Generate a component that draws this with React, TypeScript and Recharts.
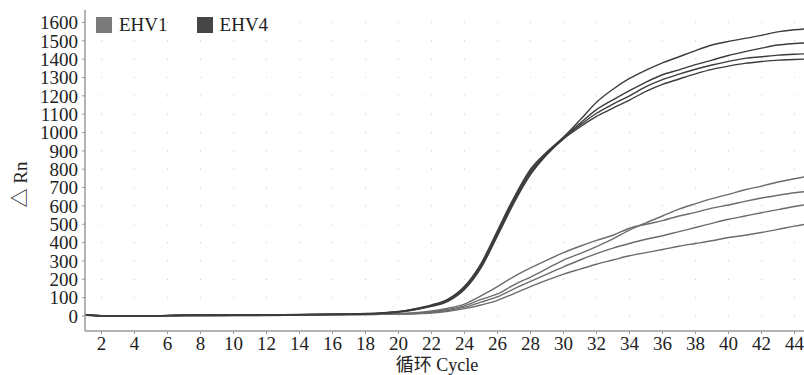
import React from 'react';
import { LineChart, Line, XAxis, YAxis, CartesianGrid, Legend, Label } from 'recharts';

const cycles = [1, 2, 3, 4, 5, 6, 7, 8, 9, 10, 11, 12, 13, 14, 15, 16, 17, 18, 19, 20, 21, 22, 23, 24, 25, 26, 27, 28, 29, 30, 31, 32, 33, 34, 35, 36, 37, 38, 39, 40, 41, 42, 43, 44, 45];
const xTicks = [2, 4, 6, 8, 10, 12, 14, 16, 18, 20, 22, 24, 26, 28, 30, 32, 34, 36, 38, 40, 42, 44];
const yTicks = [0, 100, 200, 300, 400, 500, 600, 700, 800, 900, 1000, 1100, 1200, 1300, 1400, 1500, 1600];

// EHV4 curves (dark)
const ehv4A = [8, 2, 0, 0, 0, 3, 5, 6, 6, 6, 6, 6, 7, 8, 9, 10, 11, 13, 17, 24, 39, 60, 92, 162, 286, 466, 646, 800, 895, 975, 1068, 1165, 1236, 1295, 1340, 1380, 1413, 1447, 1477, 1497, 1513, 1530, 1549, 1560, 1568];
const ehv4B = [7, 2, 0, 0, 0, 3, 4, 5, 5, 6, 6, 6, 6, 7, 8, 9, 10, 12, 16, 23, 37, 57, 88, 156, 278, 456, 636, 790, 890, 970, 1050, 1125, 1178, 1228, 1275, 1315, 1342, 1370, 1395, 1420, 1441, 1460, 1477, 1485, 1490];
const ehv4C = [6, 1, 0, 0, 0, 2, 4, 5, 5, 5, 5, 5, 6, 7, 8, 9, 10, 12, 15, 22, 35, 55, 85, 150, 270, 446, 626, 780, 885, 968, 1040, 1105, 1155, 1200, 1250, 1288, 1318, 1345, 1368, 1388, 1404, 1413, 1422, 1427, 1430];
const ehv4D = [6, 1, 0, 0, 0, 2, 3, 4, 4, 5, 5, 5, 5, 6, 7, 8, 9, 11, 14, 21, 33, 52, 80, 144, 262, 436, 616, 770, 880, 965, 1030, 1088, 1133, 1177, 1225, 1263, 1292, 1320, 1344, 1362, 1377, 1387, 1395, 1398, 1402];

// EHV1 curves (grey)
const ehv1A = [6, 1, 0, 0, 0, 1, 2, 2, 2, 3, 3, 3, 4, 5, 6, 7, 8, 9, 11, 14, 18, 27, 42, 65, 110, 160, 215, 262, 305, 345, 380, 412, 440, 478, 500, 520, 545, 565, 588, 605, 625, 643, 658, 672, 680];
const ehv1B = [5, 1, 0, 0, 0, 1, 2, 2, 2, 3, 3, 3, 4, 5, 6, 7, 8, 9, 10, 12, 15, 22, 35, 55, 90, 120, 170, 212, 258, 305, 340, 378, 420, 468, 508, 545, 582, 612, 640, 663, 688, 708, 730, 748, 765];
const ehv1C = [5, 0, 0, 0, 0, 1, 1, 2, 2, 2, 2, 3, 3, 4, 5, 6, 7, 8, 9, 11, 13, 19, 30, 48, 75, 105, 148, 188, 228, 268, 305, 340, 370, 395, 418, 437, 460, 482, 505, 527, 545, 563, 580, 597, 610];
const ehv1D = [4, 0, 0, 0, 0, 0, 1, 1, 2, 2, 2, 2, 3, 4, 5, 6, 7, 8, 9, 10, 12, 16, 25, 40, 60, 85, 122, 160, 195, 228, 255, 282, 305, 328, 345, 362, 380, 395, 410, 428, 440, 455, 472, 490, 505];

const legendNames = ['EHV1', 'EHV4'];
const legendColors = ['#7b7b7b', '#464646'];
const ehv1Color = '#6c6c6c';
const ehv4Color = '#3c3c3c';

const data = cycles.map((c, i) => ({
  cycle: c,
  a4: ehv4A[i], b4: ehv4B[i], c4: ehv4C[i], d4: ehv4D[i],
  a1: ehv1A[i], b1: ehv1B[i], c1: ehv1C[i], d1: ehv1D[i],
}));

const FONT = "'Liberation Serif', 'Times New Roman', 'Noto Sans CJK SC', serif";

const renderLegend = () => (
  <div style={{ display: 'flex', alignItems: 'center', fontFamily: FONT, fontSize: 19, color: '#222' }}>
    {legendNames.map((n, i) => (
      <div key={n} style={{ display: 'flex', alignItems: 'center', marginRight: 29 }}>
        <span style={{ display: 'inline-block', width: 16, height: 16, background: legendColors[i], marginRight: 7 }} />
        <span style={{ lineHeight: '19px' }}>{n}</span>
      </div>
    ))}
  </div>
);

const YLabel = (props: any) => {
  const vb = props.viewBox || { x: 0, y: 0, width: 0, height: 0 };
  const x = vb.x + 20;
  const y = vb.y + vb.height / 2 + 14;
  return (
    <text x={x} y={y} transform={`rotate(-90 ${x} ${y})`} textAnchor="middle" dominantBaseline="central"
      fill="#222" fontSize={19} fontFamily={FONT}>△ Rn</text>
  );
};

const XLabel = (props: any) => {
  const vb = props.viewBox || { x: 0, y: 0, width: 0, height: 0 };
  const x = vb.x + vb.width / 2 - 11;
  const y = vb.y + vb.height - 4;
  return (
    <text x={x} y={y} textAnchor="middle" fill="#222" fontSize={18} fontFamily={FONT}>循环 Cycle</text>
  );
};

export default function App() {
  const lineProps = { type: 'monotone' as const, dot: false, isAnimationActive: false, strokeWidth: 1.4, legendType: 'none' as const };
  return (
    <div style={{ position: 'absolute', left: 0, top: 0, width: 804, height: 375, overflow: 'hidden', background: '#fff' }}>
      <LineChart width={812} height={375} data={data} margin={{ top: 10, right: 1, bottom: 0, left: 0 }}>
        <CartesianGrid horizontal={false} vertical stroke="#d4d4d4" strokeWidth={1.2}
          strokeDasharray="1.2 17.143" strokeDashoffset={6.47} />
        <XAxis dataKey="cycle" type="number" domain={[1, 45]} ticks={xTicks} interval={0} height={44}
          allowDataOverflow axisLine={{ stroke: '#9a9a9a', strokeWidth: 1.5 }} tickLine={{ stroke: '#9a9a9a' }}
          tickSize={3} tickMargin={3} tick={{ fill: '#222', fontSize: 19, fontFamily: FONT }}>
          <Label content={<XLabel />} />
        </XAxis>
        <YAxis type="number" domain={[-82, 1668]} ticks={yTicks} interval={0} width={85} allowDataOverflow
          axisLine={{ stroke: '#9a9a9a', strokeWidth: 1.5 }} tickLine={{ stroke: '#9a9a9a' }}
          tickSize={3} tickMargin={4} tick={{ fill: '#222', fontSize: 19, fontFamily: FONT }}>
          <Label content={<YLabel />} />
        </YAxis>
        <Legend content={renderLegend} layout="horizontal" verticalAlign="middle" align="center"
          wrapperStyle={{ top: 15, left: 96, width: 400 }} />
        <Line dataKey="d1" stroke={ehv1Color} {...lineProps} />
        <Line dataKey="c1" stroke={ehv1Color} {...lineProps} />
        <Line dataKey="b1" stroke={ehv1Color} {...lineProps} />
        <Line dataKey="a1" stroke={ehv1Color} {...lineProps} />
        <Line dataKey="d4" stroke={ehv4Color} {...lineProps} />
        <Line dataKey="c4" stroke={ehv4Color} {...lineProps} />
        <Line dataKey="b4" stroke={ehv4Color} {...lineProps} />
        <Line dataKey="a4" stroke={ehv4Color} {...lineProps} />
      </LineChart>
    </div>
  );
}
